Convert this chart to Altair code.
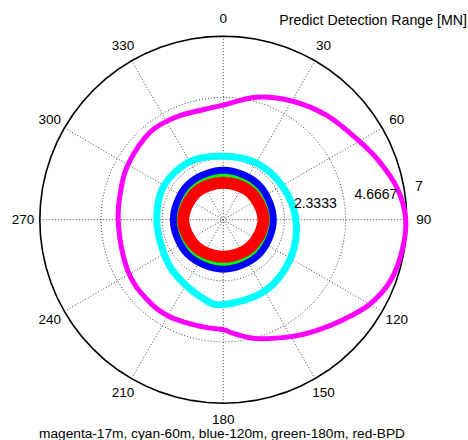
import altair as alt
import pandas as pd
import numpy as np

# ---- data (compass angle in degrees, clockwise from north; range in MN) ----
mag_angle = [0, 15, 30, 45, 60, 70, 80, 90, 100, 110, 120, 130, 140, 150, 165, 175,
             180, 190, 200, 210, 220, 235, 250, 270, 285, 300, 320, 335, 350]
mag_r = [4.37, 4.84, 5.23, 5.61, 5.99, 6.37, 6.75, 6.96, 6.92, 6.79, 6.45, 5.95, 5.52,
         5.15, 4.69, 4.35, 4.20, 4.16, 4.18, 4.23, 4.23, 4.18, 4.06, 4.01, 4.06, 4.20,
         4.35, 4.31, 4.27]

cyan_angle = [0, 30, 60, 90, 120, 150, 180, 195, 220, 240, 270, 300, 330]
cyan_r = [2.42, 2.50, 2.59, 2.77, 2.96, 3.15, 3.24, 3.09, 2.78, 2.61, 2.54, 2.61, 2.56]

ring_angle = [0, 45, 90, 135, 180, 225, 270, 315]
blue_r = [1.83, 1.84, 1.85, 1.84, 1.83, 1.84, 1.85, 1.84]
green_r = [1.70, 1.71, 1.72, 1.71, 1.70, 1.71, 1.72, 1.71]
red_r = [1.41, 1.47, 1.53, 1.47, 1.41, 1.47, 1.53, 1.47]

rmax = 7.0
ring_values = [7 / 3, 14 / 3, 7.0]
ring_labels = ["2.3333", "4.6667", "7"]
spoke_angles = [0, 30, 60, 90, 120, 150]
angle_labels = [0, 30, 60, 90, 120, 150, 180, 210, 240, 270, 300, 330]

title_text = "Predict Detection Range [MN]"
caption_text = "magenta-17m, cyan-60m, blue-120m, green-180m, red-BPD"

# ---- layout ----
R = 183.5
W = 2 * R
PADL, PADT = 39.8, 36.2
FONT = "Liberation Sans"

xs = alt.Scale(domain=[-rmax, rmax], nice=False, zero=False)
ys = alt.Scale(domain=[-rmax, rmax], nice=False, zero=False)


def X(f):
    return alt.X(f, type="quantitative", scale=xs, axis=None)


def Y(f):
    return alt.Y(f, type="quantitative", scale=ys, axis=None)


PX = "datum.r * sin(datum.a * PI / 180)"
PY = "datum.r * cos(datum.a * PI / 180)"


def series(angles, radii, name):
    return pd.DataFrame({"a": angles, "r": radii, "s": name})


# grid circles (geometry)
grid_a = list(np.arange(0, 360, 5))
grid_df = pd.concat([pd.DataFrame({"a": grid_a, "r": rv, "s": f"g{i}"})
                     for i, rv in enumerate(ring_values)])

grid = alt.Chart(grid_df[grid_df.s != "g2"]).transform_calculate(
    x=PX, y=PY
).mark_line(interpolate="linear-closed", color="#444444", strokeWidth=1,
            strokeDash=[1, 2]).encode(
    x=X("x:Q"), y=Y("y:Q"), detail="s:N", order="a:Q")

outer = alt.Chart(grid_df[grid_df.s == "g2"]).transform_calculate(
    x=PX, y=PY
).mark_line(interpolate="linear-closed", color="black", strokeWidth=1.6).encode(
    x=X("x:Q"), y=Y("y:Q"), order="a:Q")

spokes_df = pd.DataFrame({"a": spoke_angles, "r": rmax})
spokes = alt.Chart(spokes_df).transform_calculate(
    x=PX, y=PY, x2="-(" + PX + ")", y2="-(" + PY + ")"
).mark_rule(color="#444444", strokeWidth=1, strokeDash=[1, 2]).encode(
    x=X("x:Q"), y=Y("y:Q"), x2="x2:Q", y2="y2:Q")


def curve(df, color, width):
    return alt.Chart(df).transform_calculate(
        x=PX, y=PY
    ).mark_line(interpolate="cardinal-closed", color=color, strokeWidth=width).encode(
        x=X("x:Q"), y=Y("y:Q"), order="a:Q")


mag = curve(series(mag_angle, mag_r, "magenta"), "#FF00FF", 5)
cyan = curve(series(cyan_angle, cyan_r, "cyan"), "#00FFFF", 7)
blue = curve(series(ring_angle, blue_r, "blue"), "#0000FF", 10)
green = curve(series(ring_angle, green_r, "green"), "#00FF00", 3)
red = curve(series(ring_angle, red_r, "red"), "#FF0000", 12)

# angle labels
al_df = pd.DataFrame({"a": angle_labels, "r": rmax * 1.092,
                      "t": [str(v) for v in angle_labels]})
alabels = alt.Chart(al_df).transform_calculate(
    x=PX, y=PY
).mark_text(font=FONT, fontSize=13.5, color="black", align="center", baseline="middle").encode(
    x=X("x:Q"), y=Y("y:Q"), text="t:N")

# radial labels
rl_df = pd.DataFrame({"a": 82, "r": [v + (7 / 3) / 20 for v in ring_values], "t": ring_labels})
rlabels = alt.Chart(rl_df).transform_calculate(
    x=PX, y=PY
).mark_text(font=FONT, fontSize=14, color="black", align="left", baseline="bottom", dx=7).encode(
    x=X("x:Q"), y=Y("y:Q"), text="t:N")

title = alt.Chart(pd.DataFrame({"t": [title_text]})).mark_text(
    font=FONT, fontSize=14.2, color="black", align="right", baseline="middle"
).encode(x=alt.value(467 - PADL), y=alt.value(21 - PADT), text="t:N")

caption = alt.Chart(pd.DataFrame({"t": [caption_text]})).mark_text(
    font=FONT, fontSize=13.7, color="black", align="center", baseline="middle"
).encode(x=alt.value(222 - PADL), y=alt.value(434 - PADT), text="t:N")

chart = alt.layer(grid, spokes, outer, mag, cyan, blue, green, red,
                  alabels, rlabels, title, caption).properties(
    width=W, height=W,
    autosize=alt.AutoSizeParams(type="none"),
    padding={"left": PADL, "top": PADT, "right": 468 - PADL - W, "bottom": 440 - PADT - W},
    background="white",
).configure_view(stroke=None)

chart.save("out.html", embed_options={"renderer": "svg", "actions": False})
